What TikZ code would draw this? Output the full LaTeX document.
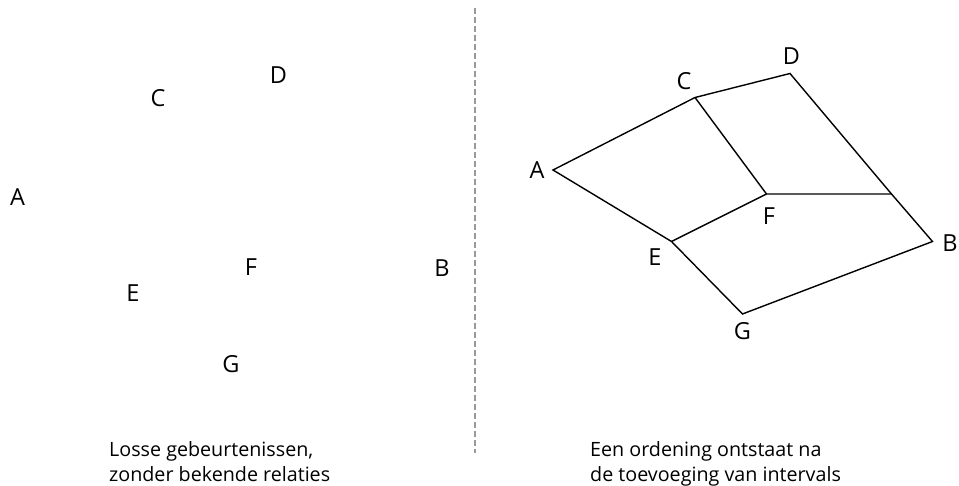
\documentclass[tikz,border=0pt]{standalone}
\usepackage{fontspec}
\setmainfont{Open Sans}
\begin{document}
\begin{tikzpicture}[x=1pt,y=-1pt,
  lbl/.style={inner sep=0pt,font=\fontsize{23.5}{24}\selectfont},
  captiontext/.style={inner sep=0pt,anchor=base west,font=\fontsize{19.7}{25}\selectfont},
  edge/.style={line width=1.4pt,line join=miter},
  divider/.style={gray!80,line width=1.1pt,dash pattern=on 6pt off 3pt}]
\useasboundingbox (0,0) rectangle (959,486);

% left half: loose events
\node[lbl] (lA) at (17.5,197) {A};
\node[lbl] (lC) at (158,98) {C};
\node[lbl] (lD) at (278.5,75.5) {D};
\node[lbl] (lF) at (251,267.5) {F};
\node[lbl] (lE) at (133,293) {E};
\node[lbl] (lG) at (231,364) {G};
\node[lbl] (lB) at (442,268) {B};
\node[captiontext] (capL1) at (109,456) {Losse gebeurtenissen,};
\node[captiontext] (capL2) at (109,481) {zonder bekende relaties};

% divider
\coordinate (top) at (475,8);
\coordinate (bot) at (475,453);
\draw[divider] (top) -- (bot);

% right half: the ordering
\coordinate (A) at (553,170);
\coordinate (C) at (695,97.5);
\coordinate (D) at (790,73.5);
\coordinate (F) at (766.5,194);
\coordinate (H) at (891.5,194);
\coordinate (B) at (932.5,241.5);
\coordinate (E) at (671.5,241.5);
\coordinate (G) at (742.5,314);

\draw[edge] (E) -- (A) -- (C) -- (D) -- (H) -- (B) -- (G) -- cycle;
\draw[edge] (C) -- (F) -- (H);
\draw[edge] (E) -- (F);

\node[lbl] (rA) at (537,170) {A};
\node[lbl] (rC) at (684,81) {C};
\node[lbl] (rD) at (791.5,56) {D};
\node[lbl] (rF) at (769,216) {F};
\node[lbl] (rE) at (655,257.5) {E};
\node[lbl] (rB) at (950,243.5) {B};
\node[lbl] (rG) at (742.5,331.5) {G};
\node[captiontext] (capR1) at (590,456) {Een ordening ontstaat na};
\node[captiontext] (capR2) at (590,481) {de toevoeging van intervals};
\end{tikzpicture}
\end{document}
